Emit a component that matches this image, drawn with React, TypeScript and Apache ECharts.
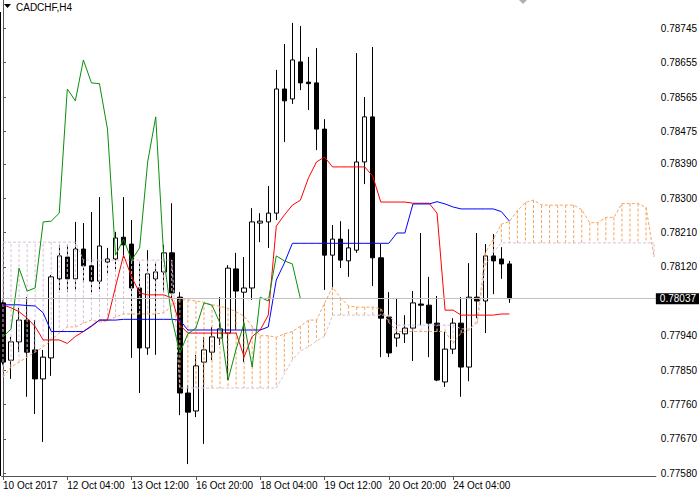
import React, { useEffect, useRef } from 'react';
import * as echarts from 'echarts';

const FONT = '"Liberation Sans", Arial, sans-serif';

// x-axis ticks (bar index) and their labels
const xTickIndex = [0, 8, 16, 24, 32, 40, 48, 56];
const xTickLabels = ['10 Oct 2017', '12 Oct 04:00', '13 Oct 12:00', '16 Oct 20:00', '18 Oct 04:00', '19 Oct 12:00', '20 Oct 20:00', '24 Oct 04:00'];
// y-axis tick values
const yTickValues = [0.7758, 0.7767, 0.7776, 0.7785, 0.7794, 0.7812, 0.7821, 0.783, 0.7839, 0.78475, 0.78565, 0.78655, 0.78745];

const opens = [
  0.78026, 0.77876, 0.77924, 0.77981, 0.77903, 0.77827, 0.77882, 0.78089, 0.78146, 0.78089,
  0.78167, 0.78123, 0.78083, 0.78133, 0.78141, 0.78198, 0.7818, 0.78065, 0.77908, 0.78089,
  0.78107, 0.78157, 0.78041, 0.7779, 0.77743, 0.77871, 0.77897, 0.77934, 0.77947, 0.78115,
  0.78054, 0.78065, 0.78235, 0.78238, 0.78261, 0.78586, 0.7856, 0.78657, 0.78604, 0.78602,
  0.78481, 0.78151, 0.78193, 0.78136, 0.78164, 0.78395, 0.78513, 0.78144, 0.77989, 0.77934,
  0.77945, 0.7796, 0.78023, 0.7802, 0.77973, 0.77819, 0.77905, 0.77973, 0.77858, 0.78041,
  0.78031, 0.78149, 0.78141, 0.78128,
];
const highs = [
  0.78034, 0.77937, 0.78013, 0.78041, 0.77981, 0.77903, 0.78099, 0.78178, 0.78178, 0.78238,
  0.78235, 0.78264, 0.78303, 0.7817, 0.78212, 0.78303, 0.78243, 0.78133, 0.78164, 0.7813,
  0.78178, 0.78287, 0.78054, 0.77811, 0.7789, 0.77937, 0.77963, 0.78041, 0.78125, 0.78157,
  0.78146, 0.78274, 0.78261, 0.78332, 0.78636, 0.78704, 0.78759, 0.78751, 0.7867, 0.78693,
  0.78507, 0.7823, 0.7824, 0.78219, 0.7868, 0.78565, 0.78696, 0.7818, 0.78054, 0.78039,
  0.77994, 0.78057, 0.78209, 0.78094, 0.78044, 0.7795, 0.77986, 0.78041, 0.7813, 0.78209,
  0.7818, 0.78206, 0.78172, 0.78136,
];
const lows = [
  0.77863, 0.77827, 0.77897, 0.7778, 0.77735, 0.77662, 0.77835, 0.7806, 0.78054, 0.7806,
  0.78078, 0.78054, 0.7806, 0.78099, 0.78112, 0.78144, 0.77882, 0.7779, 0.7789, 0.7789,
  0.78054, 0.78034, 0.77732, 0.77604, 0.77727, 0.77657, 0.77876, 0.77916, 0.77824, 0.77955,
  0.77871, 0.78034, 0.78185, 0.7817, 0.78243, 0.78447, 0.78547, 0.78583, 0.78531, 0.78426,
  0.7806, 0.7806, 0.78117, 0.78094, 0.78157, 0.78337, 0.7807, 0.77884, 0.77884, 0.77911,
  0.77921, 0.77874, 0.77968, 0.77884, 0.77821, 0.77806, 0.77892, 0.7778, 0.77821, 0.77986,
  0.77947, 0.78049, 0.78089, 0.78026,
];
const closes = [
  0.77871, 0.77924, 0.77981, 0.77897, 0.77827, 0.77884, 0.78094, 0.78149, 0.78089, 0.78167,
  0.78123, 0.78083, 0.78175, 0.78141, 0.78196, 0.78178, 0.78065, 0.77908, 0.78102, 0.78107,
  0.78157, 0.78052, 0.7779, 0.7774, 0.77861, 0.77903, 0.77937, 0.77958, 0.78117, 0.78057,
  0.78065, 0.78238, 0.7824, 0.78261, 0.78586, 0.78555, 0.78662, 0.78602, 0.786, 0.78481,
  0.78151, 0.78193, 0.78138, 0.7817, 0.78395, 0.78513, 0.78144, 0.77986, 0.77895, 0.77945,
  0.7796, 0.78026, 0.7802, 0.77973, 0.77824, 0.77905, 0.77973, 0.77858, 0.78041, 0.78031,
  0.78149, 0.78136, 0.78128, 0.78037,
];
const tenkan = [
  0.78021, 0.78013, 0.78003, 0.77986, 0.77964, 0.77929, 0.77929, 0.77929, 0.7792, 0.77938,
  0.77951, 0.77964, 0.77981, 0.77981, 0.78068, 0.78151, 0.78094, 0.78052, 0.78047, 0.78047,
  0.78047, 0.78039, 0.77968, 0.77947, 0.77947, 0.77947, 0.77947, 0.77947, 0.77947, 0.77947,
  0.77885, 0.77938, 0.77955, 0.77994, 0.78227, 0.78256, 0.78282, 0.78295, 0.78353, 0.78395,
  0.78408, 0.78382, 0.78382, 0.78382, 0.78382, 0.78382, 0.78358, 0.7829, 0.7829, 0.7829,
  0.7829, 0.78287, 0.78287, 0.78287, 0.78261, 0.78007, 0.78007, 0.77994, 0.77994, 0.77994,
  0.77994, 0.77994, 0.77997, 0.77997,
];
const kijun = [
  0.78021, 0.78021, 0.78021, 0.78019, 0.78018, 0.78, 0.77951, 0.77951, 0.77951, 0.77951,
  0.77951, 0.77966, 0.77981, 0.77981, 0.77981, 0.77983, 0.77983, 0.77983, 0.77983, 0.77983,
  0.77983, 0.77983, 0.77981, 0.77955, 0.77955, 0.77955, 0.77955, 0.77955, 0.77955, 0.77955,
  0.77955, 0.77955, 0.77955, 0.77963, 0.78086, 0.7813, 0.78182, 0.78182, 0.78182, 0.78182,
  0.78182, 0.78182, 0.78182, 0.78182, 0.78182, 0.78182, 0.78182, 0.78182, 0.78182, 0.78209,
  0.78209, 0.78285, 0.78285, 0.78285, 0.78291, 0.78285, 0.78277, 0.78272, 0.78272, 0.78272,
  0.78272, 0.78272, 0.78265, 0.7824,
];
const chikou = [
  0.77937, 0.77958, 0.78117, 0.78057, 0.78065, 0.78238, 0.7824, 0.78261, 0.78586, 0.78555,
  0.78662, 0.78602, 0.786, 0.78481, 0.78151, 0.78193, 0.78138, 0.7817, 0.78395, 0.78513,
  0.78144, 0.77986, 0.77895, 0.77945, 0.7796, 0.78026, 0.7802, 0.77973, 0.77824, 0.77905,
  0.77973, 0.77858, 0.78041, 0.78031, 0.78149, 0.78136, 0.78128, 0.78037,
];
const senkouA = [
  0.77832, 0.77858, 0.77871, 0.77884, 0.77897, 0.77911, 0.77929, 0.77947, 0.77963, 0.77963,
  0.77973, 0.77981, 0.77976, 0.77979, 0.77989, 0.77997, 0.77997, 0.77997, 0.77997, 0.77997,
  0.78, 0.78018, 0.78034, 0.78034, 0.78031, 0.78028, 0.78021, 0.78017, 0.78012, 0.78003,
  0.77991, 0.77965, 0.7794, 0.7794, 0.77936, 0.77945, 0.77951, 0.77965, 0.77981, 0.77981,
  0.78025, 0.78067, 0.78039, 0.78018, 0.78015, 0.78015, 0.78015, 0.78011, 0.77975, 0.77951,
  0.77951, 0.77951, 0.77951, 0.77951, 0.77951, 0.77951, 0.7792, 0.77947, 0.77955, 0.77979,
  0.78157, 0.78193, 0.78232, 0.78239, 0.78268, 0.78289, 0.78295, 0.78282, 0.78282, 0.78282,
  0.78282, 0.78282, 0.7827, 0.78236, 0.78236, 0.7825, 0.7825, 0.78286, 0.78286, 0.78286,
  0.78276, 0.78146,
];
const senkouB = [
  0.78185, 0.78185, 0.78185, 0.78185, 0.78185, 0.78185, 0.78185, 0.78185, 0.78185, 0.78185,
  0.78138, 0.78138, 0.78138, 0.78138, 0.78138, 0.78138, 0.78138, 0.78138, 0.78138, 0.78138,
  0.78138, 0.78138, 0.77803, 0.77803, 0.77803, 0.77803, 0.77803, 0.77803, 0.77803, 0.77803,
  0.77803, 0.77803, 0.77803, 0.77803, 0.77803, 0.7784, 0.77877, 0.779, 0.77911, 0.77926,
  0.77939, 0.77994, 0.77994, 0.77994, 0.77994, 0.77994, 0.77994, 0.77994, 0.77994, 0.77968,
  0.77968, 0.77968, 0.77968, 0.77968, 0.77968, 0.77968, 0.77968, 0.77958, 0.77958, 0.77973,
  0.78123, 0.78159, 0.78183, 0.78183, 0.78183, 0.78183, 0.78183, 0.78183, 0.78183, 0.78183,
  0.78183, 0.78183, 0.78183, 0.78183, 0.78183, 0.78183, 0.78183, 0.78183, 0.78183, 0.78183,
  0.78183, 0.78183,
];
const lastPrice = 0.78037;
const symbolTitle = 'CADCHF,H4';

const X_MIN = -0.186;
const X_MAX = 81.22;
const Y_MIN = 0.775728;
const Y_MAX = 0.78819;

export default function App() {
  const ref = useRef<HTMLDivElement>(null);
  useEffect(() => {
    const chart = echarts.init(ref.current as HTMLDivElement, null, { renderer: 'svg' });
    const candleData = opens.map((o, i) => [i, o, closes[i], lows[i], highs[i]]);
    const cloudData = senkouA.map((a, i) => [i, a, senkouB[i]]);
    const pairs = (arr: number[]) => arr.map((v, i) => [i, v]);
    const lineSeries = (name: string, arr: number[], color: string, type: any, z: number) => ({
      name,
      type: 'line',
      data: pairs(arr),
      showSymbol: false,
      symbol: 'none',
      silent: true,
      z,
      lineStyle: { color, width: 1, type },
    });
    chart.setOption({
      animation: false,
      backgroundColor: '#ffffff',
      grid: { left: 0, right: 42, top: 0, bottom: 19 },
      xAxis: {
        type: 'value',
        min: X_MIN,
        max: X_MAX,
        axisLine: { show: true, lineStyle: { color: '#555555', width: 1 } },
        axisTick: { show: true, customValues: xTickIndex, length: 4, lineStyle: { color: '#555555' } },
        axisLabel: {
          customValues: xTickIndex,
          formatter: (v: number) => {
            const k = xTickIndex.indexOf(Math.round(v));
            return k >= 0 ? xTickLabels[k] : '';
          },
          align: 'left',
          margin: 4,
          fontSize: 10,
          color: '#000',
          fontFamily: FONT,
        },
        splitLine: { show: false },
      },
      yAxis: {
        type: 'value',
        position: 'right',
        min: Y_MIN,
        max: Y_MAX,
        axisLine: { show: true, lineStyle: { color: '#555555', width: 1 } },
        axisTick: { show: true, customValues: yTickValues, length: 3, lineStyle: { color: '#555555' } },
        axisLabel: {
          customValues: yTickValues,
          formatter: (v: number) => v.toFixed(5),
          margin: 5,
          fontSize: 10,
          color: '#000',
          fontFamily: FONT,
        },
        splitLine: { show: false },
      },
      series: [
        {
          type: 'candlestick',
          data: candleData,
          encode: { x: 0, y: [1, 2, 3, 4] },
          barWidth: 5,
          silent: true,
          z: 2,
          itemStyle: {
            color: '#ffffff',
            color0: '#000000',
            borderColor: '#000000',
            borderColor0: '#000000',
            borderWidth: 1,
          },
          markLine: {
            silent: true,
            precision: 5,
            symbol: ['none', 'none'],
            lineStyle: { color: '#c0c0c0', width: 1, type: 'solid' },
            label: {
              show: true,
              position: 'end',
              formatter: lastPrice.toFixed(5),
              color: '#ffffff',
              backgroundColor: '#000000',
              padding: [1, 3, 0, 4],
              distance: 0,
              fontSize: 10,
              lineHeight: 10,
              fontFamily: FONT,
            },
            data: [{ yAxis: lastPrice }],
          },
        },
        {
          type: 'custom',
          data: cloudData,
          encode: { x: 0, y: [1, 2] },
          silent: true,
          clip: true,
          z: 3,
          renderItem: (params: any, api: any) => {
            const i = api.value(0);
            const a = api.value(1);
            const b = api.value(2);
            const p1 = api.coord([i, a]);
            const p2 = api.coord([i, b]);
            return {
              type: 'line',
              shape: { x1: p1[0], y1: p1[1], x2: p2[0], y2: p2[1] },
              style: { stroke: a >= b ? '#f4a460' : '#d8bfd8', lineWidth: 1, lineDash: [3, 2] },
            };
          },
        },
        lineSeries('Senkou Span A', senkouA, '#f4a460', [3, 2], 3),
        lineSeries('Senkou Span B', senkouB, '#d8bfd8', [3, 2], 3),
        lineSeries('Tenkan-sen', tenkan, '#ff0000', 'solid', 4),
        lineSeries('Kijun-sen', kijun, '#0000ff', 'solid', 4),
        lineSeries('Chikou Span', chikou, '#0a8f0a', 'solid', 4),
      ],
      graphic: [
        { type: 'line', shape: { x1: 0.5, y1: 12, x2: 0.5, y2: 476 }, style: { stroke: '#000', lineWidth: 1 }, silent: true },
        { type: 'polygon', shape: { points: [[4, 4], [11, 4], [7.5, 8]] }, style: { fill: '#000' }, silent: true },
        {
          type: 'text',
          x: 16,
          y: 7,
          style: { text: symbolTitle, fontSize: 10, fontFamily: FONT, fill: '#000', verticalAlign: 'middle' },
          silent: true,
        },
        { type: 'polygon', shape: { points: [[519, 0], [527, 0], [523, 4]] }, style: { fill: '#b0b0b0' }, silent: true },
      ],
    });
    return () => chart.dispose();
  }, []);
  return (
    <div
      ref={ref}
      style={{ position: 'fixed', left: 0, top: 0, width: 700, height: 495, background: '#fff' }}
    />
  );
}
